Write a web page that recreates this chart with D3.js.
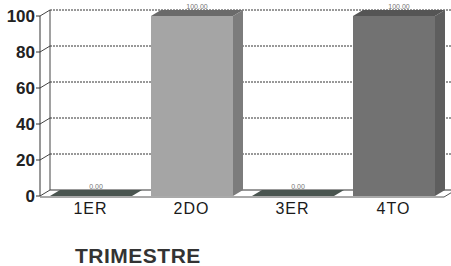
<!DOCTYPE html>
<html>
<head>
<meta charset="utf-8">
<script src="https://cdn.jsdelivr.net/npm/d3@7"></script>
<style>
  body { margin: 0; background: #fff; }
  svg { display: block; font-family: "Liberation Sans", Arial, sans-serif; }
</style>
</head>
<body>
<div id="chart"></div>
<script>
// data
var categories = ["1ER", "2DO", "3ER", "4TO"];
var values = [0, 100, 0, 100];
var valueLabels = ["0.00", "100.00", "0.00", "100.00"];
var yTicks = [0, 20, 40, 60, 80, 100];
var axisTitle = "TRIMESTRE";

var width = 451, height = 266;
// 3d depth offset
var dx = 10, dy = -6;

var svg = d3.select("#chart").append("svg")
    .attr("width", width)
    .attr("height", height);

var x = d3.scaleBand()
    .domain(categories)
    .range([40, 444]);
var y = d3.scaleLinear()
    .domain([0, 100])
    .range([196, 16]);

var barColors = {
  "1ER": {front: "#5d6862", top: "#4a5550", side: "#444"},
  "2DO": {front: "#a5a5a5", top: "#6a6a6a", side: "#7c7c7c"},
  "3ER": {front: "#5d6862", top: "#4a5550", side: "#444"},
  "4TO": {front: "#727272", top: "#555", side: "#5e5e5e"}
};

// back wall grid lines
svg.selectAll(".grid")
    .data(yTicks)
  .enter().append("line")
    .attr("x1", 40 + dx)
    .attr("x2", width)
    .attr("y1", function(d) { return y(d) + dy; })
    .attr("y2", function(d) { return y(d) + dy; })
    .attr("stroke", "#333")
    .attr("stroke-width", 1)
    .attr("stroke-dasharray", function(d) { return d === 0 ? null : "2,1"; });

// back wall left edge
svg.append("line")
    .attr("x1", 40 + dx).attr("x2", 40 + dx)
    .attr("y1", y(100) + dy).attr("y2", y(0) + dy)
    .attr("stroke", "#444");

// left wall slanted tick connectors
svg.selectAll(".conn")
    .data(yTicks)
  .enter().append("line")
    .attr("x1", 40).attr("x2", 40 + dx)
    .attr("y1", function(d) { return y(d); })
    .attr("y2", function(d) { return y(d) + dy; })
    .attr("stroke", "#444");

// front axis
svg.append("line")
    .attr("x1", 40).attr("x2", 40)
    .attr("y1", y(100)).attr("y2", y(0))
    .attr("stroke", "#333");
svg.selectAll(".tick")
    .data(yTicks)
  .enter().append("line")
    .attr("x1", 36).attr("x2", 40)
    .attr("y1", function(d) { return y(d); })
    .attr("y2", function(d) { return y(d); })
    .attr("stroke", "#333");

// floor front edge
svg.append("line")
    .attr("x1", 40).attr("x2", 444)
    .attr("y1", y(0) + 1).attr("y2", y(0) + 1)
    .attr("stroke", "#555");
svg.append("line")
    .attr("x1", 444).attr("x2", 444 + dx)
    .attr("y1", y(0) + 1).attr("y2", y(0) + 1 + dy)
    .attr("stroke", "#555");

// bars
var bars = svg.selectAll(".bar")
    .data(categories)
  .enter().append("g")
    .attr("class", "bar");

var bx = function(c) { return x(c) + 10; };
var bw = 82;

bars.append("rect")
    .attr("x", bx)
    .attr("y", function(c, i) { return y(values[i]); })
    .attr("width", bw)
    .attr("height", function(c, i) { return y(0) - y(values[i]); })
    .attr("fill", function(c) { return barColors[c].front; });

bars.append("path")
    .attr("d", function(c, i) {
      var x0 = bx(c), yt = y(values[i]);
      return "M" + x0 + "," + yt + "L" + (x0 + dx) + "," + (yt + dy) +
             "L" + (x0 + bw + dx) + "," + (yt + dy) + "L" + (x0 + bw) + "," + yt + "Z";
    })
    .attr("fill", function(c) { return barColors[c].top; });

bars.append("path")
    .attr("d", function(c, i) {
      var x1 = bx(c) + bw, yt = y(values[i]), yb = y(0);
      return "M" + x1 + "," + yt + "L" + (x1 + dx) + "," + (yt + dy) +
             "L" + (x1 + dx) + "," + (yb + dy) + "L" + x1 + "," + yb + "Z";
    })
    .attr("fill", function(c) { return barColors[c].side; });

// value labels on top
bars.append("text")
    .attr("x", function(c) { return bx(c) + bw / 2 + dx / 2; })
    .attr("y", function(c, i) { return y(values[i]) + dy - 1; })
    .attr("text-anchor", "middle")
    .attr("font-size", "7px")
    .attr("fill", "#777")
    .text(function(c, i) { return valueLabels[i]; });

// y tick labels
svg.selectAll(".ylab")
    .data(yTicks)
  .enter().append("text")
    .attr("x", 35)
    .attr("y", function(d) { return y(d) + 6; })
    .attr("text-anchor", "end")
    .attr("font-size", "17px")
    .attr("font-weight", "bold")
    .attr("fill", "#222")
    .text(function(d) { return d; });

// category labels
svg.selectAll(".xlab")
    .data(categories)
  .enter().append("text")
    .attr("x", function(c) { return x(c) + x.bandwidth() / 2; })
    .attr("y", 214)
    .attr("text-anchor", "middle")
    .attr("font-size", "16px")
    .attr("letter-spacing", "1px")
    .attr("fill", "#1a1a1a")
    .text(function(c) { return c; });

// axis title
svg.append("text")
    .attr("x", 75)
    .attr("y", 263)
    .attr("font-size", "21px")
    .attr("font-weight", "bold")
    .attr("letter-spacing", "0.5px")
    .attr("fill", "#333")
    .text(axisTitle);
</script>
</body>
</html>
